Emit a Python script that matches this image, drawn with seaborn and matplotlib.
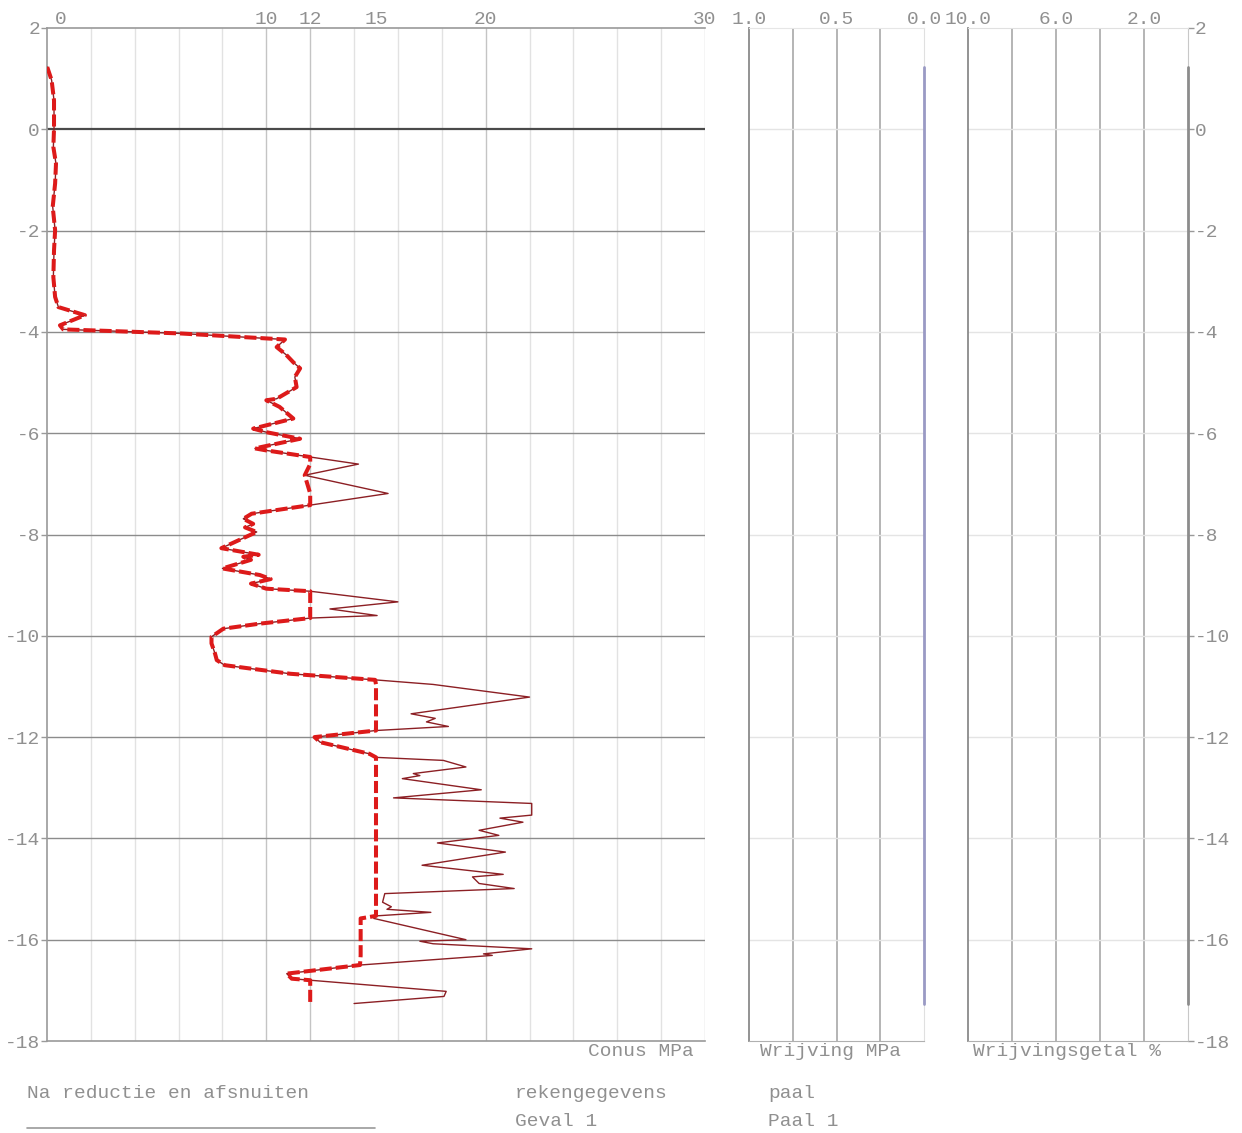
import numpy as np
import pandas as pd
import matplotlib
matplotlib.use("Agg")
import matplotlib.pyplot as plt
import matplotlib.transforms as mtransforms
import seaborn as sns

# Cone resistance profile (depth in m relative to reference level, qc in MPa)
depth = [1.23, 0.97, 0.57, 0.01, -0.35, -0.68, -1.07, -1.53, -1.99, -2.39,
         -2.92, -3.31, -3.51, -3.67, -3.87, -3.95, -4.03, -4.15, -4.30, -4.45,
         -4.60, -4.72, -4.89, -5.09, -5.32, -5.35, -5.48, -5.71, -5.91, -5.98,
         -6.11, -6.30, -6.34, -6.47, -6.61, -6.83, -7.19, -7.42, -7.59, -7.69,
         -7.79, -7.86, -7.95, -8.01, -8.27, -8.40, -8.44, -8.50, -8.67, -8.80,
         -8.88, -8.97, -9.07, -9.12, -9.33, -9.47, -9.60, -9.65, -9.76, -9.86,
         -10.02, -10.15, -10.35, -10.48, -10.58, -10.75, -10.87, -10.96, -11.21, -11.54,
         -11.63, -11.70, -11.79, -11.87, -12.00, -12.10, -12.33, -12.40, -12.46, -12.59,
         -12.72, -12.76, -12.82, -13.04, -13.20, -13.31, -13.54, -13.60, -13.68, -13.84,
         -13.94, -14.09, -14.27, -14.53, -14.71, -14.76, -14.89, -14.99, -15.09, -15.26,
         -15.35, -15.40, -15.46, -15.53, -15.58, -16.00, -16.03, -16.08, -16.18, -16.28,
         -16.31, -16.50, -16.67, -16.77, -16.80, -17.02, -17.12, -17.26]
qc = [0.01, 0.21, 0.32, 0.32, 0.29, 0.41, 0.37, 0.26, 0.37, 0.32,
      0.29, 0.37, 0.52, 1.73, 0.59, 0.74, 6.06, 10.85, 10.47, 10.90,
      11.23, 11.54, 11.30, 11.38, 10.47, 10.00, 10.60, 11.23, 9.40, 10.00,
      11.54, 9.48, 10.00, 12.00, 14.20, 11.75, 15.55, 12.00, 9.33, 8.95,
      9.40, 9.03, 9.56, 9.26, 7.95, 9.65, 8.95, 9.30, 8.00, 9.70,
      10.20, 9.30, 10.00, 12.00, 16.00, 12.90, 15.05, 12.00, 9.70, 8.04,
      7.50, 7.50, 7.66, 7.74, 8.10, 11.10, 14.96, 17.60, 22.00, 16.60,
      17.70, 17.30, 18.30, 15.00, 12.20, 12.45, 14.70, 15.00, 18.07, 19.10,
      16.70, 17.00, 16.20, 19.80, 15.80, 22.10, 22.10, 20.65, 21.70, 19.70,
      20.60, 17.80, 20.90, 17.10, 20.80, 19.40, 19.70, 21.30, 15.40, 15.30,
      15.70, 15.50, 17.50, 15.00, 14.90, 19.10, 17.00, 17.60, 22.10, 19.90,
      20.30, 14.27, 10.93, 11.16, 12.00, 18.20, 18.10, 14.00]

# Cut-off limits applied after reduction: depth ranges and limit values (MPa)
cut_top = [-6.47, -9.12, -10.87, -15.58, -16.80]
cut_bottom = [-7.42, -9.65, -15.53, -16.50, -17.30]
cut_value = [12.0, 12.0, 15.0, 14.3, 12.0]

# Sleeve friction and friction ratio (no readings: zero over the sounding)
friction_depth = [1.23, -17.26]
friction_mpa = [0.0, 0.0]
friction_ratio = [0.0, 0.0]

conus_ticks = [0, 10, 12, 15, 20, 30]
conus_labels = ["0", "10", "12", "15", "20", "30"]
wrijving_ticks = [1.0, 0.5, 0.0]
wrijving_labels = ["1.0", "0.5", "0.0"]
getal_ticks = [10.0, 6.0, 2.0]
getal_labels = ["10.0", "6.0", "2.0"]
depth_ticks = [2, 0, -2, -4, -6, -8, -10, -12, -14, -16, -18]

# ---------------------------------------------------------------------------
sns.set_style("white")
plt.rcParams["font.family"] = ["Liberation Mono", "DejaVu Sans Mono"]
plt.rcParams["axes.unicode_minus"] = False

TXT = "#909090"
FS = 14

W, H = 1242, 1133
fig = plt.figure(figsize=(W / 100, H / 100), dpi=100)


def px_axes(x0, x1, y0, y1):
    return fig.add_axes([x0 / W, 1 - y1 / H, (x1 - x0) / W, (y1 - y0) / H])


ax1 = px_axes(47, 705, 28, 1041)
ax2 = px_axes(749, 924, 28, 1041)
ax3 = px_axes(968, 1188, 28, 1041)

d = np.array(depth)
limit = np.full(len(d), np.inf)
for top, bot, val in zip(cut_top, cut_bottom, cut_value):
    limit[(d <= top + 1e-9) & (d >= bot - 1e-9)] = val
qc_reduced = np.minimum(np.array(qc), limit)

raw = pd.DataFrame({"qc": qc, "depth": depth})
red = pd.DataFrame({"qc": qc_reduced, "depth": depth})

# --- cone resistance panel --------------------------------------------------
ax = ax1
ax.set_xlim(0, 30)
ax.set_ylim(-18, 2)
for v in np.arange(2, 30, 2):
    col = "#c4c4c4" if v in (10, 12, 20) else "#e2e2e2"
    ax.axvline(v, color=col, lw=1, zorder=0)
ax.axvline(30, color="#d0d0d0", lw=1, zorder=0)
for yv in depth_ticks[1:-1]:
    ax.axhline(yv, color="#4a4a4a" if yv == 0 else "#8c8c8c",
               lw=1.6 if yv == 0 else 1.0, zorder=0)

sns.lineplot(data=raw, x="qc", y="depth", sort=False, estimator=None,
             color="#8c1f24", lw=1.0, ax=ax, zorder=3)
sns.lineplot(data=red, x="qc", y="depth", sort=False, estimator=None,
             color="#dd1a1a", lw=2.9, linestyle=(0, (3, 1)), ax=ax, zorder=4)

ax.set_xlabel("")
ax.set_ylabel("")
ax.xaxis.tick_top()
ax.set_xticks(conus_ticks)
ax.set_xticklabels(conus_labels)
ax.tick_params(axis="x", length=0, pad=0, labelsize=FS, labelcolor=TXT)
ax.set_yticks(depth_ticks)
ax.set_yticklabels([str(t) for t in depth_ticks])
ax.tick_params(axis="y", left=True, length=4, width=1, color="#9a9a9a",
               pad=1, labelsize=FS, labelcolor=TXT)
lbl0 = ax.get_xticklabels()[0]
lbl0.set_transform(lbl0.get_transform() +
                   mtransforms.ScaledTranslation(14 / 100, 0, fig.dpi_scale_trans))
for side in ("left", "top", "bottom"):
    ax.spines[side].set_color("#9a9a9a")
    ax.spines[side].set_linewidth(1.2)
ax.spines["right"].set_visible(False)

# --- sleeve friction panel --------------------------------------------------
ax = ax2
ax.set_xlim(1.0, 0.0)
ax.set_ylim(-18, 2)
for v in (0.75, 0.5, 0.25):
    ax.axvline(v, color="#a0a0a0", lw=1.1, zorder=0)
for yv in depth_ticks[1:-1]:
    ax.axhline(yv, color="#e4e4e4", lw=1, zorder=0)
sns.lineplot(x=friction_mpa, y=friction_depth, sort=False, estimator=None,
             color="#9a9ac4", lw=2.0, ax=ax, zorder=3, clip_on=False)
ax.set_xlabel("")
ax.set_ylabel("")
ax.xaxis.tick_top()
ax.set_xticks(wrijving_ticks)
ax.set_xticklabels(wrijving_labels)
ax.tick_params(axis="x", length=0, pad=0, labelsize=FS, labelcolor=TXT)
ax.set_yticks([])
ax.spines["left"].set_color("#8a8a8a")
ax.spines["left"].set_linewidth(1.3)
ax.spines["bottom"].set_color("#b0b0b0")
ax.spines["top"].set_color("#e6e6e6")
ax.spines["right"].set_color("#e0e0e0")

# --- friction ratio panel ---------------------------------------------------
ax = ax3
ax.set_xlim(10.0, 0.0)
ax.set_ylim(-18, 2)
for v in (8, 6, 4, 2):
    ax.axvline(v, color="#a0a0a0", lw=1.1, zorder=0)
for yv in depth_ticks[1:-1]:
    ax.axhline(yv, color="#e4e4e4", lw=1, zorder=0)
sns.lineplot(x=friction_ratio, y=friction_depth, sort=False, estimator=None,
             color="#8c8c8c", lw=2.0, ax=ax, zorder=3, clip_on=False)
ax.set_xlabel("")
ax.set_ylabel("")
ax.xaxis.tick_top()
ax.set_xticks(getal_ticks)
ax.set_xticklabels(getal_labels)
ax.tick_params(axis="x", length=0, pad=0, labelsize=FS, labelcolor=TXT)
ax.yaxis.tick_right()
ax.set_yticks(depth_ticks)
ax.set_yticklabels([str(t) for t in depth_ticks])
ax.tick_params(axis="y", right=True, left=False, length=4, width=1,
               color="#9a9a9a", pad=1, labelsize=FS, labelcolor=TXT)
ax.spines["left"].set_color("#8a8a8a")
ax.spines["left"].set_linewidth(1.3)
ax.spines["right"].set_color("#c8c8c8")
ax.spines["bottom"].set_color("#b0b0b0")
ax.spines["top"].set_color("#e0e0e0")

# --- captions ---------------------------------------------------------------
def ftext(x, y, s, ha="left"):
    fig.text(x / W, 1 - y / H, s, ha=ha, va="center", fontsize=FS, color=TXT)


ftext(694, 1052, "Conus MPa", ha="right")
ftext(760, 1052, "Wrijving MPa")
ftext(973, 1052, "Wrijvingsgetal %")
ftext(27, 1094, "Na reductie en afsnuiten")
ftext(515, 1094, "rekengegevens")
ftext(515, 1122, "Geval 1")
ftext(768, 1094, "paal")
ftext(768, 1122, "Paal 1")
fig.add_artist(plt.Line2D([27 / W, 375 / W], [1 - 1128 / H, 1 - 1128 / H],
                          color="#9a9a9a", lw=1.2))

fig.savefig("out.png", dpi=100, facecolor="white")
